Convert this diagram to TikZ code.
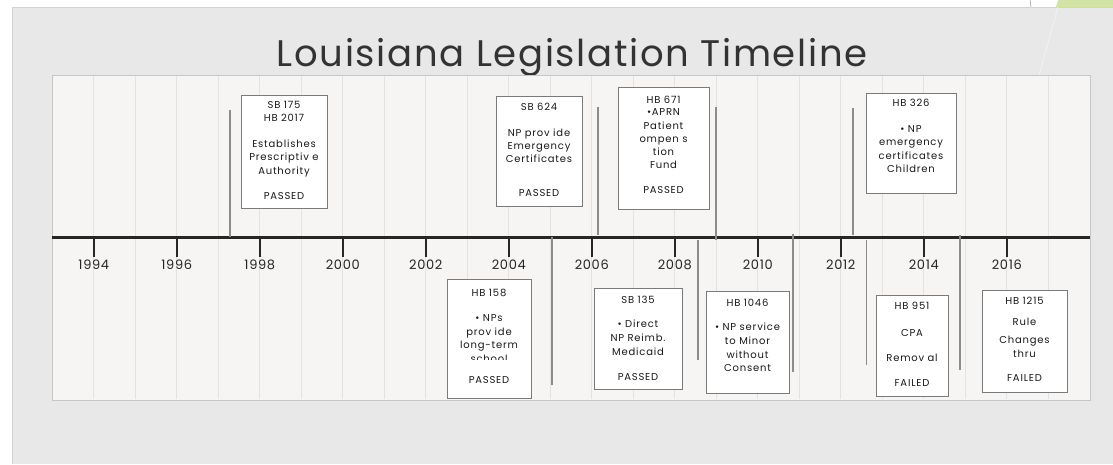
\documentclass[tikz,border=0pt]{standalone}
\usepackage{fontspec}
\setmainfont{Poppins}
\newfontfamily\boxfont{Poppins}[LetterSpace=8]
\newfontfamily\yearfont{Poppins}[LetterSpace=5]
\newfontfamily\titlefont{Poppins}[LetterSpace=4.5]
\usetikzlibrary{fit}
\definecolor{slidegray}{HTML}{E8E8E8}
\definecolor{slideedge}{HTML}{D2D2D2}
\definecolor{panelbg}{HTML}{F6F5F3}
\definecolor{paneledge}{HTML}{C6C6C6}
\definecolor{gridc}{HTML}{E3E2E0}
\definecolor{connc}{HTML}{8C8C8C}
\definecolor{boxedge}{HTML}{7A7A7A}
\definecolor{greenc}{HTML}{D3E3A6}
\tikzset{
  billbox/.style={draw=boxedge, line width=1pt, fill=white, inner sep=0pt},
  boxtxt/.style={font=\boxfont\fontsize{10}{11}\selectfont, anchor=base, inner sep=0pt, text=black!90},
  yeartxt/.style={font=\yearfont\fontsize{13}{14}\selectfont, anchor=base, inner sep=0pt, text=black!85},
  connline/.style={draw=connc, line width=1.8pt},
  axisline/.style={draw=black!85, line width=3pt},
  tickline/.style={draw=black!85, line width=2.6pt},
}
% name, x1, y1, x2, y2, centre x, list of text/y-centre
\newcommand\billcard[7]{%
  \node[billbox, fit={(#2,#3) (#4,#5)}] (#1) {};
  \foreach \txt/\yy [count=\i] in {#7} {\node[boxtxt] (#1-\i) at (#6,\yy+3.5) {\txt};}%
}
\begin{document}
\begin{tikzpicture}[x=1pt,y=-1pt]
\useasboundingbox (0,0) rectangle (1113,464);
\fill[white] (0,0) rectangle (1113,464);
% slide
\fill[greenc] (1058,0) -- (1113,0) -- (1113,7) -- (1056,7) -- cycle;
\draw[black!45, line width=0.5pt] (1030,0) -- (1031,7);
\fill[slidegray] (12,7) rectangle (1113,464);
\draw[slideedge, line width=1pt] (12,464) -- (12,7) -- (1113,7);
\draw[white!92!black, line width=0.6pt, dotted] (1031,7) -- (1106,464);
\draw[white!96!black, line width=0.6pt] (1058,7) -- (1035,90);
% title
\node[font=\titlefont\fontsize{37}{40}\selectfont, text=black!80, anchor=base] (title) at (572,66.5) {Louisiana Legislation Timeline};
% panel
\node[fill=panelbg, draw=paneledge, line width=1pt, inner sep=0pt, fit={(52,75) (1090,400)}] (panel) {};
\foreach \k in {1,...,24} {
  \draw[gridc, line width=1pt] ({52+41.52*\k},75.6) -- ({52+41.52*\k},399.4);
}
% axis
\coordinate (axL) at (52,237);
\coordinate (axR) at (1090,237);
\draw[axisline] (axL) -- (axR);
\foreach \yr [count=\k from 0] in {1994,1996,...,2016} {
  \coordinate (tk\yr) at ({93.8+83.0*\k},237);
  \draw[tickline] (tk\yr) -- ++(0,20);
  \node[yeartxt] (yr\yr) at ({93.8+83.0*\k},269.5) {\yr};
}
% connector lines
\coordinate (c1a) at (230,110);   \coordinate (c1b) at (230,237);
\coordinate (c2a) at (598,107);   \coordinate (c2b) at (598,235);
\coordinate (c3a) at (716,107);   \coordinate (c3b) at (716,240);
\coordinate (c4a) at (853,108);   \coordinate (c4b) at (853,235);
\coordinate (c5a) at (552,237);   \coordinate (c5b) at (552,385);
\coordinate (c6a) at (698,240);   \coordinate (c6b) at (698,360);
\coordinate (c7a) at (793,234);   \coordinate (c7b) at (793,372);
\coordinate (c8a) at (866.5,240); \coordinate (c8b) at (866.5,365);
\coordinate (c9a) at (960,235);   \coordinate (c9b) at (960,370);
\foreach \c in {1,...,9} {\draw[connline] (c\c a) -- (c\c b);}
% top cards
\billcard{sb175}{241}{95}{327}{208}{284}{SB 175/105,HB 2017/118,Establishes/144,Prescriptiv e/157,Authority/171,PASSED/196}
\billcard{sb624}{496}{96}{582}{206}{539}{SB 624/106.7,NP prov ide/133,Emergency/146,Certificates/159,PASSED/193}
\billcard{hb671}{618}{87}{709}{209}{663.5}{HB 671/100,•APRN/112,Patient/126,ompen s/139,tion/152,Fund/165,PASSED/190}
\billcard{hb326}{866}{93}{956}{193}{911}{HB 326/103,• NP/129,emergency/142,certificates/156,Children/169}
% bottom cards
\billcard{hb158}{447}{279}{531}{398}{489}{HB 158/293,• NPs/318,prov ide/332,long-term/345,PASSED/380}
\begin{scope}
  \clip (448,350) rectangle (530,359.5);
  \node[boxtxt] (hb158-school) at (489,362.5) {school};
\end{scope}
\billcard{sb135}{594}{288}{682}{389}{638}{SB 135/300,• Direct/324,NP Reimb./338,Medicaid/352,PASSED/377}
\billcard{hb1046}{706}{291}{789}{393}{747.5}{HB 1046/303,• NP service/327,to Minor/341,without/355,Consent/368}
\billcard{hb951}{876}{295}{948}{396}{912}{HB 951/306,CPA/333,Remov al/358,FAILED/383}
\billcard{hb1215}{982}{290}{1067}{392}{1024.5}{HB 1215/301,Rule/322,Changes/340,thru/354,FAILED/378}
\end{tikzpicture}
\end{document}
